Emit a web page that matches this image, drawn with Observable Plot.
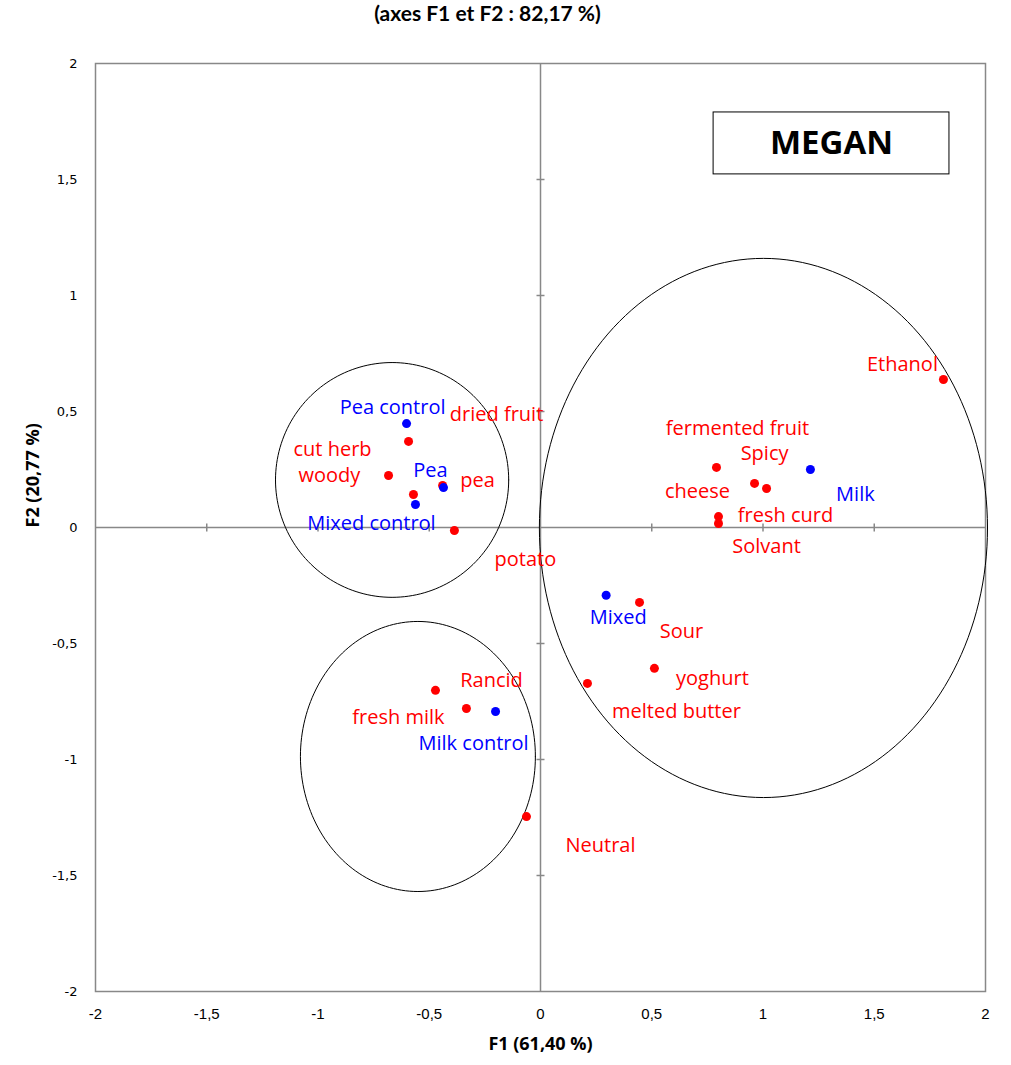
<!DOCTYPE html>
<html><head><meta charset="utf-8">
<script src="https://cdn.jsdelivr.net/npm/d3@7"></script>
<script src="https://cdn.jsdelivr.net/npm/@observablehq/plot@0.6"></script>
<style>
body{margin:0;background:#fff;}
#title{height:34px;line-height:40px;font:bold 21px Lato,"Open Sans",sans-serif;text-align:center;padding-right:36px;color:#000;overflow:visible;}
</style></head><body>
<div id="title">(axes F1 et F2 : 82,17 %)</div>
<div id="chart"></div>
<script>
// Sensory attributes (red)
const attrNames = ["dried fruit","cut herb","woody","pea","potato","Ethanol","fermented fruit","Spicy","cheese","fresh curd","Solvant","Sour","yoghurt","melted butter","Rancid","fresh milk","Neutral"];
const attrF1 = [-0.593,-0.683,-0.571,-0.440,-0.387,1.811,0.791,1.016,0.962,0.800,0.800,0.445,0.512,0.211,-0.472,-0.333,-0.063];
const attrF2 = [0.371,0.224,0.142,0.181,-0.013,0.638,0.259,0.168,0.190,0.047,0.017,-0.323,-0.607,-0.672,-0.702,-0.780,-1.246];
// Products (blue)
const prodNames = ["Pea control","Pea","Mixed control","Milk","Mixed","Milk control"];
const prodF1 = [-0.602,-0.436,-0.562,1.213,0.295,-0.202];
const prodF2 = [0.448,0.172,0.099,0.250,-0.292,-0.793];
// Group ellipses (centre, radii)
const ellCx = [-0.667,-0.551,1.002];
const ellCy = [0.205,-0.987,-0.002];
const ellRx = [0.524,0.528,1.007];
const ellRy = [0.506,0.582,1.162];
// Tick values
const tickValues = [-2,-1.5,-1,-0.5,0,0.5,1,1.5,2];
const innerTicks = [-1.5,-1,-0.5,0.5,1,1.5];
// Legend box
const boxLabel = ["MEGAN"];
const boxX = [0.778,1.838];
const boxY = [1.522,1.789];

// label placement (pixels)
const labelOffset = {
  "dried fruit":[88,-27],"cut herb":[-56,-26],"woody":[-84,-19],"pea":[35,-5],"potato":[71,29],
  "Ethanol":[-41,-15],"fermented fruit":[21,-39],"Spicy":[-2,-35],"cheese":[-57,8],"fresh curd":[67,-1],
  "Solvant":[48,23],"Sour":[42,29],"yoghurt":[58,10],"melted butter":[89,28],"Rancid":[56,-10],
  "fresh milk":[-68,9],"Neutral":[74,29],
  "Pea control":[-14,-16],"Pea":[-13,-17],"Mixed control":[-44,19],"Milk":[45,25],"Mixed":[12,22],"Milk control":[-22,32]
};

const attrs = attrNames.map((n,i)=>({name:n,x:attrF1[i],y:attrF2[i]}));
const prods = prodNames.map((n,i)=>({name:n,x:prodF1[i],y:prodF2[i]}));
const ellPts = [];
ellCx.forEach((cx,k)=>{
  const n=180;
  for(let j=0;j<=n;j++){const t=2*Math.PI*j/n; ellPts.push({id:k,x:cx+ellRx[k]*Math.cos(t),y:ellCy[k]+ellRy[k]*Math.sin(t)});}
});
const fmt = d => String(d).replace(".",",");
const vTick = {draw(ctx){ctx.moveTo(0,-4);ctx.lineTo(0,4);}};
const hTick = {draw(ctx){ctx.moveTo(-4,0);ctx.lineTo(4,0);}};
const lblFont = "'Open Sans', Lato, sans-serif";

const labelMarks = (arr,color)=>arr.map(d=>Plot.text([d],{x:"x",y:"y",text:"name",fill:color,fontSize:20,fontFamily:lblFont,
  dx:labelOffset[d.name][0],dy:labelOffset[d.name][1],textAnchor:"middle",lineAnchor:"middle"}));

const chart = Plot.plot({
  width:1011, height:1031,
  marginLeft:95, marginRight:26, marginTop:29, marginBottom:74,
  x:{domain:[-2,2]}, y:{domain:[-2,2]},
  style:{background:"#fff"},
  marks:[
    Plot.frame({stroke:"#888",strokeWidth:1.5}),
    Plot.ruleX([0],{stroke:"#888",strokeWidth:1.5}),
    Plot.ruleY([0],{stroke:"#888",strokeWidth:1.5}),
    Plot.dot(innerTicks,{x:d=>d,y:()=>0,symbol:vTick,stroke:"#888",strokeWidth:1.5}),
    Plot.dot(innerTicks,{x:()=>0,y:d=>d,symbol:hTick,stroke:"#888",strokeWidth:1.5}),
    Plot.axisX(tickValues,{tickSize:0,tickPadding:17,tickFormat:fmt,fontSize:15,fontFamily:"'Liberation Sans Narrow','Liberation Sans',sans-serif",label:null}),
    Plot.axisY(tickValues,{tickSize:0,tickPadding:18,tickFormat:fmt,fontSize:13,fontFamily:"'DejaVu Sans',sans-serif",label:null}),
    Plot.line(ellPts,{x:"x",y:"y",z:"id",stroke:"#000",strokeWidth:1}),
    Plot.rect(boxLabel,{x1:()=>boxX[0],x2:()=>boxX[1],y1:()=>boxY[0],y2:()=>boxY[1],fill:"#fff",stroke:"#000",strokeWidth:1}),
    Plot.text(boxLabel,{x:()=>(boxX[0]+boxX[1])/2,y:()=>(boxY[0]+boxY[1])/2,text:d=>d,fontSize:33,fontWeight:"bold",fontFamily:"'Open Sans',sans-serif",fill:"#000"}),
    Plot.dot(attrs,{x:"x",y:"y",r:4.5,fill:"#ff0000"}),
    Plot.dot(prods,{x:"x",y:"y",r:4.5,fill:"#0000ff"}),
    ...labelMarks(attrs,"#ff0000"),
    ...labelMarks(prods,"#0000ff"),
    Plot.text(["F1 (61,40 %)"],{frameAnchor:"bottom",dy:58,text:d=>d,fontSize:18,fontWeight:"bold",fontFamily:"'Open Sans',sans-serif",fill:"#000"}),
    Plot.text(["F2 (20,77 %)"],{frameAnchor:"left",dx:-62,rotate:-90,text:d=>d,fontSize:18,fontWeight:"bold",fontFamily:"'Open Sans',sans-serif",fill:"#000"})
  ]
});
document.getElementById("chart").appendChild(chart);
</script>
</body></html>
